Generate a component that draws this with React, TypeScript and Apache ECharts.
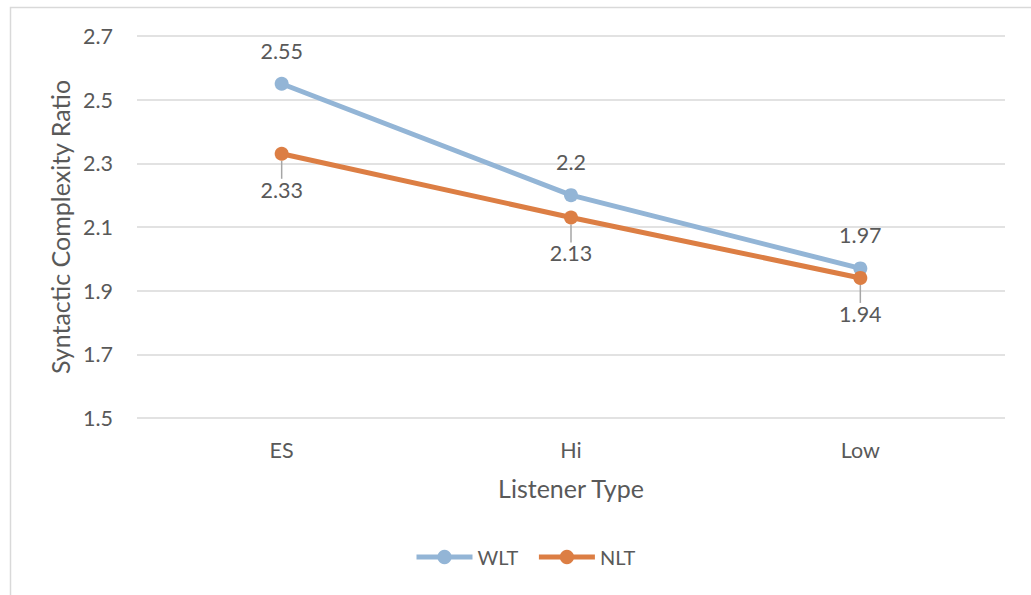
import React, { useEffect, useRef } from "react";
import * as echarts from "echarts";

const categories = ["ES", "Hi", "Low"];
const wltValues = [2.55, 2.2, 1.97];
const nltValues = [2.33, 2.13, 1.94];
const seriesNames = ["WLT", "NLT"];
const yMin = 1.5;
const yMax = 2.7;
const yStep = 0.2;

const FONT = "Lato, 'Open Sans', sans-serif";
const TEXT = "#595959";

export default function App() {
  const ref = useRef<HTMLDivElement>(null);
  useEffect(() => {
    if (!ref.current) return;
    const chart = echarts.init(ref.current, undefined, { renderer: "svg" });
    chart.setOption({
      animation: false,
      backgroundColor: "#ffffff",
      textStyle: { fontFamily: FONT, color: TEXT },
      graphic: [
        {
          type: "rect",
          shape: { x: 10.5, y: 7.5, width: 1040, height: 620 },
          style: { fill: "none", stroke: "#d9d9d9", lineWidth: 1.5 },
          silent: true,
        },
      ],
      grid: { left: 137, right: 26, top: 36, bottom: 177 },
      legend: {
        bottom: 23,
        left: 409,
        itemWidth: 56,
        itemHeight: 18,
        itemGap: 18,
        lineStyle: { width: 5 },
        textStyle: { fontFamily: FONT, color: TEXT, fontSize: 20 },
        data: seriesNames,
      },
      xAxis: {
        type: "category",
        data: categories,
        boundaryGap: true,
        name: "Listener Type",
        nameLocation: "middle",
        nameGap: 57,
        nameTextStyle: { fontFamily: FONT, color: TEXT, fontSize: 25 },
        axisLine: { show: false },
        axisTick: { show: false },
        axisLabel: { fontFamily: FONT, color: TEXT, fontSize: 21.5, margin: 21 },
      },
      yAxis: {
        type: "value",
        min: yMin,
        max: yMax,
        interval: yStep,
        name: "Syntactic Complexity Ratio",
        nameLocation: "middle",
        nameGap: 65,
        nameTextStyle: { fontFamily: FONT, color: TEXT, fontSize: 25 },
        axisLine: { show: false },
        axisTick: { show: false },
        axisLabel: {
          fontFamily: FONT,
          color: TEXT,
          fontSize: 21.5,
          margin: 24,
          formatter: (v: number) => v.toFixed(1),
        },
        splitLine: { lineStyle: { color: "#d9d9d9", width: 1.5 } },
      },
      series: [
        {
          name: seriesNames[0],
          type: "line",
          data: wltValues,
          symbol: "circle",
          symbolSize: 14,
          itemStyle: { color: "#93b5d6" },
          lineStyle: { color: "#93b5d6", width: 5 },
          label: {
            show: true,
            position: "top",
            distance: 15,
            fontFamily: FONT,
            color: TEXT,
            fontSize: 21.5,
          },
        },
        {
          name: seriesNames[1],
          type: "line",
          data: nltValues,
          symbol: "circle",
          symbolSize: 14,
          itemStyle: { color: "#dc7e44" },
          lineStyle: { color: "#dc7e44", width: 5 },
          label: {
            show: true,
            position: "inside",
            fontFamily: FONT,
            color: TEXT,
            fontSize: 21.5,
          },
          labelLayout: { dy: 36 },
          labelLine: { show: true, lineStyle: { color: "#a6a6a6", width: 1.5 } },
        },
      ],
    });
    return () => chart.dispose();
  }, []);
  return (
    <div
      ref={ref}
      style={{ position: "fixed", left: 0, top: 0, width: 1031, height: 595 }}
    />
  );
}
